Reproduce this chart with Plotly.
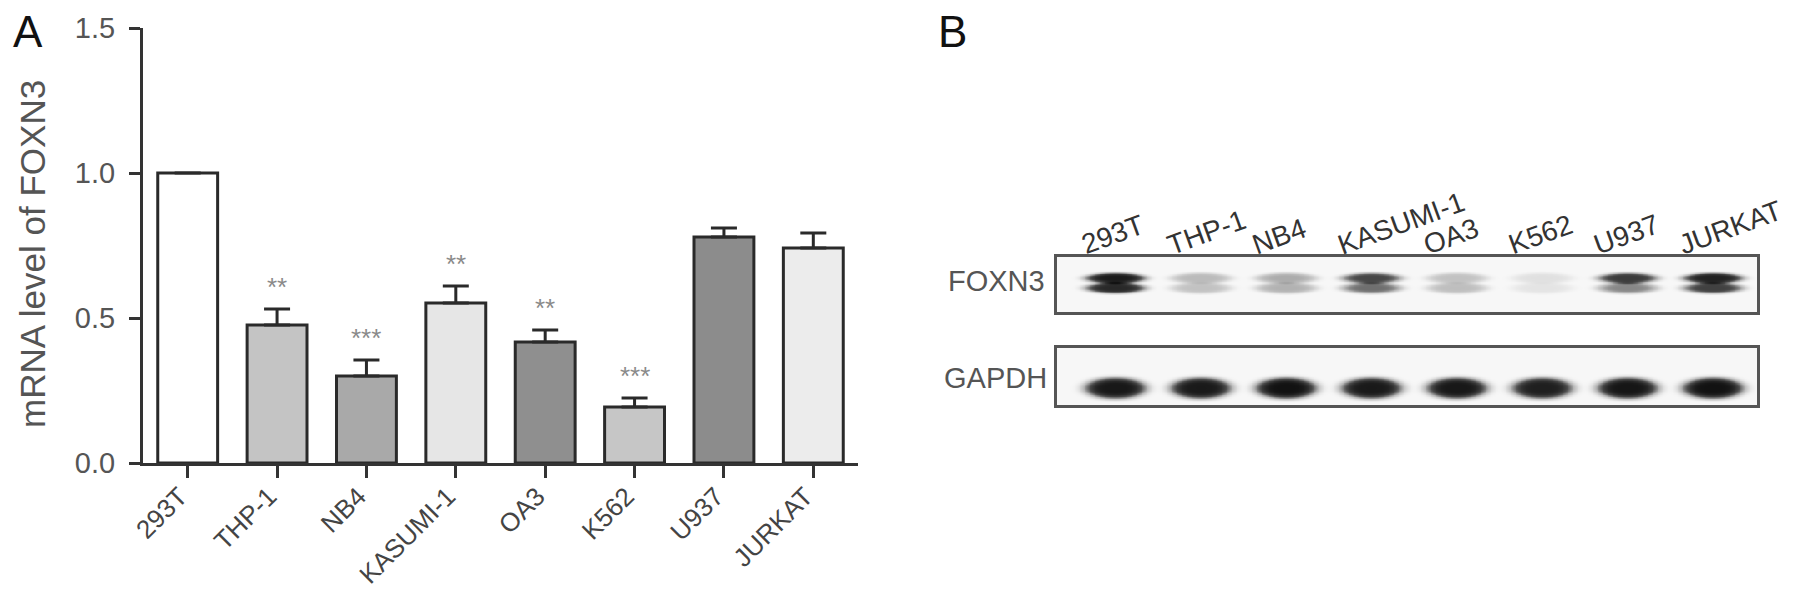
import numpy as np
import plotly.graph_objects as go

# ---------------- data ----------------
categories = ["293T", "THP-1", "NB4", "KASUMI-1", "OA3", "K562", "U937", "JURKAT"]
mrna_mean = [1.00, 0.476, 0.300, 0.552, 0.417, 0.193, 0.779, 0.741]
mrna_sem = [0.0, 0.055, 0.055, 0.058, 0.042, 0.031, 0.031, 0.052]
significance = ["", "**", "***", "**", "**", "***", "", ""]
bar_colors = ["#ffffff", "#c4c4c4", "#a9a9a9", "#e6e6e6", "#8f8f8f", "#c6c6c6", "#8c8c8c", "#ececec"]
y_tickvals = [0.0, 0.5, 1.0, 1.5]
y_ticktext = ["0.0", "0.5", "1.0", "1.5"]

blot_lanes = ["293T", "THP-1", "NB4", "KASUMI-1", "OA3", "K562", "U937", "JURKAT"]
foxn3_upper = [0.95, 0.32, 0.38, 0.72, 0.28, 0.12, 0.78, 0.92]
foxn3_lower = [0.88, 0.28, 0.36, 0.58, 0.30, 0.10, 0.50, 0.75]
gapdh_band = [0.97, 0.96, 1.00, 0.96, 0.97, 0.93, 0.98, 1.00]

# ---------------- figure ----------------
# the page body has an 8px default margin; size the figure to fit the window
OFF = 8
W, H = 1795 - 2 * OFF, 596 - 2 * OFF
FONT = "Liberation Sans, Arial, sans-serif"


def px_x(p):
    return (p - OFF) / W


def px_y(p):
    return 1 - (p - OFF) / H


fig = go.Figure()

# Panel A bars
fig.add_trace(go.Bar(
    x=categories, y=mrna_mean, width=0.67,
    marker=dict(color=bar_colors, line=dict(color="#2a2a2a", width=3)),
    error_y=dict(type="data", symmetric=False, array=mrna_sem,
                 arrayminus=[0] * len(mrna_sem), color="#2a2a2a",
                 thickness=3, width=13),
    xaxis="x", yaxis="y", showlegend=False, hoverinfo="skip",
))

# Panel B blot rendering (band intensities -> image)
lane_idx = np.arange(len(blot_lanes))
xs = np.linspace(-0.68, 7.52, 420)
ys = np.linspace(0, 1, 90)
XX, YY = np.meshgrid(xs, ys)


def band(cx, cy, hw, hh, p=2.5):
    r = (np.abs(XX - cx) / hw) ** 2 + (np.abs(YY - cy) / hh) ** 2
    return np.exp(-r ** p)


z_fox = np.zeros_like(XX)
for i in lane_idx:
    z_fox += foxn3_upper[i] * band(i, 0.62, 0.36, 0.10)
    z_fox += foxn3_lower[i] * band(i, 0.44, 0.36, 0.10)
z_fox = np.clip(z_fox, 0, 1)

z_gap = np.zeros_like(XX)
for i in lane_idx:
    z_gap += gapdh_band[i] * band(i, 0.30, 0.37, 0.19)
z_gap = np.clip(z_gap, 0, 1)

blot_scale = [[0, "#f7f7f7"], [0.35, "#b5b5b5"], [0.7, "#4a4a4a"], [1, "#121212"]]
fig.add_trace(go.Heatmap(x=xs, y=ys, z=z_fox, colorscale=blot_scale, zmin=0, zmax=1,
                         zsmooth="best", showscale=False, hoverinfo="skip",
                         xaxis="x2", yaxis="y2"))
fig.add_trace(go.Heatmap(x=xs, y=ys, z=z_gap, colorscale=blot_scale, zmin=0, zmax=1,
                         zsmooth="best", showscale=False, hoverinfo="skip",
                         xaxis="x3", yaxis="y3"))

annotations = []
# significance stars
for c, m, s, t in zip(categories, mrna_mean, mrna_sem, significance):
    if t:
        annotations.append(dict(x=c, y=m + s, xref="x", yref="y", text=t,
                                showarrow=False, yanchor="middle", yshift=22,
                                font=dict(size=26, color="#8a8a8a", family=FONT)))
# y title
annotations.append(dict(x=px_x(32), y=px_y(254), xref="paper", yref="paper",
                        text="mRNA level of FOXN3", textangle=-90, showarrow=False,
                        xanchor="center", yanchor="middle",
                        font=dict(size=35, color="#555555", family=FONT)))
# panel letters
annotations.append(dict(x=px_x(11), y=px_y(31), xref="paper", yref="paper", text="A",
                        showarrow=False, xanchor="left", yanchor="middle",
                        font=dict(size=44, color="#111111", family=FONT)))
annotations.append(dict(x=px_x(936), y=px_y(32), xref="paper", yref="paper", text="B",
                        showarrow=False, xanchor="left", yanchor="middle",
                        font=dict(size=44, color="#111111", family=FONT)))
# blot row labels
annotations.append(dict(x=px_x(1047), y=px_y(281), xref="paper", yref="paper", text="FOXN3",
                        showarrow=False, xanchor="right", yanchor="middle",
                        font=dict(size=29, color="#555555", family=FONT)))
annotations.append(dict(x=px_x(1049), y=px_y(378), xref="paper", yref="paper", text="GAPDH",
                        showarrow=False, xanchor="right", yanchor="middle",
                        font=dict(size=29, color="#555555", family=FONT)))
# lane labels
for i, name in zip(lane_idx, blot_lanes):
    annotations.append(dict(x=i - 0.47, y=px_y(263), xref="x2", yref="paper", text=name,
                            showarrow=False, xanchor="left", yanchor="bottom", textangle=-20,
                            font=dict(size=28, color="#333333", family=FONT)))

blot_axis = dict(showline=True, mirror=True, linewidth=3, linecolor="#555555",
                 showticklabels=False, ticks="", showgrid=False, zeroline=False,
                 fixedrange=True, automargin=False)

fig.update_layout(
    width=W, height=H,
    margin=dict(l=0, r=0, t=0, b=0, pad=0, autoexpand=False),
    paper_bgcolor="#ffffff", plot_bgcolor="rgba(0,0,0,0)",
    font=dict(family=FONT),
    xaxis=dict(domain=[px_x(143), px_x(858)], range=[-0.5, 7.5], type="category",
               automargin=False,
               showline=True, linewidth=3, linecolor="#333333",
               ticks="outside", ticklen=12, tickwidth=3, tickcolor="#333333",
               tickangle=-45, ticklabelstandoff=-7, ticklabelshift=-8,
               tickfont=dict(size=26, color="#444444", family=FONT),
               showgrid=False, zeroline=False),
    yaxis=dict(domain=[px_y(463), px_y(28)], range=[0, 1.5], automargin=False,
               tickvals=y_tickvals, ticktext=y_ticktext,
               showline=True, linewidth=3, linecolor="#333333",
               ticks="outside", ticklen=11, tickwidth=3, tickcolor="#333333",
               ticklabelstandoff=8,
               tickfont=dict(size=29, color="#555555", family=FONT),
               showgrid=False, zeroline=False),
    xaxis2=dict(domain=[px_x(1057), px_x(1757)], range=[-0.68, 7.52], anchor="y2", **blot_axis),
    yaxis2=dict(domain=[px_y(312), px_y(257)], range=[0, 1], anchor="x2", **blot_axis),
    xaxis3=dict(domain=[px_x(1057), px_x(1757)], range=[-0.68, 7.52], anchor="y3", **blot_axis),
    yaxis3=dict(domain=[px_y(405), px_y(348)], range=[0, 1], anchor="x3", **blot_axis),
    annotations=annotations,
)

fig.write_html("out.html")
